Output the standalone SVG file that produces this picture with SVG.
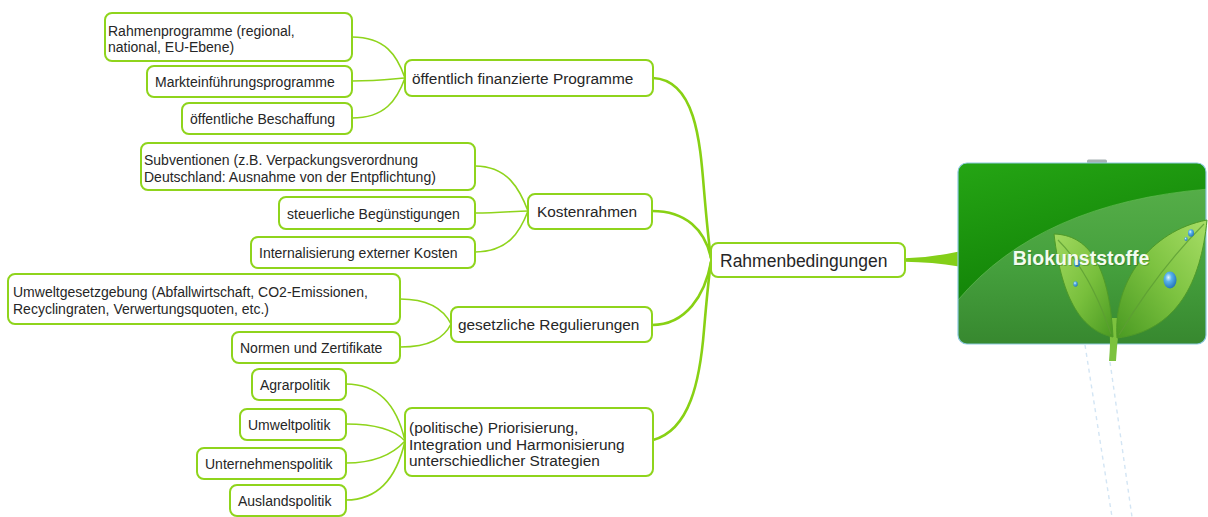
<svg xmlns="http://www.w3.org/2000/svg" width="1208" height="517" viewBox="0 0 1208 517">
  <defs>
    <style>
      .box { fill: #ffffff; stroke: #8fd41c; stroke-width: 2; }
      .t { font-family: "Liberation Sans", Arial, sans-serif; font-size: 14px; fill: #262626; }
      .t2 { font-family: "Liberation Sans", Arial, sans-serif; font-size: 15.4px; fill: #262626; }
      .t3 { font-family: "Liberation Sans", Arial, sans-serif; font-size: 17.5px; fill: #262626; }
      .branch { fill: none; stroke: #88d114; stroke-width: 2.6; stroke-linecap: round; }
      .twig { fill: none; stroke: #8fd41c; stroke-width: 1.6; stroke-linecap: round; }
    </style>
    <linearGradient id="cardTop" x1="0" y1="0" x2="0.3" y2="1">
      <stop offset="0" stop-color="#25a514"/>
      <stop offset="0.6" stop-color="#168a0a"/>
      <stop offset="1" stop-color="#0c7406"/>
    </linearGradient>
    <linearGradient id="cardLow" x1="0" y1="0" x2="0" y2="1">
      <stop offset="0" stop-color="#55ad48"/>
      <stop offset="0.5" stop-color="#45a03d"/>
      <stop offset="1" stop-color="#37882f"/>
    </linearGradient>
    <linearGradient id="leafA" x1="0" y1="0" x2="1" y2="1">
      <stop offset="0" stop-color="#a2da60"/>
      <stop offset="0.55" stop-color="#78bf3c"/>
      <stop offset="1" stop-color="#4a9a22"/>
    </linearGradient>
    <linearGradient id="leafB" x1="1" y1="0" x2="0" y2="1">
      <stop offset="0" stop-color="#a8de66"/>
      <stop offset="0.5" stop-color="#7cc240"/>
      <stop offset="1" stop-color="#4a9a22"/>
    </linearGradient>
    <radialGradient id="drop" cx="0.38" cy="0.35" r="0.7">
      <stop offset="0" stop-color="#e6f6ff"/>
      <stop offset="0.35" stop-color="#5ab4ec"/>
      <stop offset="1" stop-color="#1f6fb8"/>
    </radialGradient>
    <clipPath id="cardClip">
      <rect x="958" y="163" width="248" height="181" rx="9"/>
    </clipPath>
  </defs>

  <rect width="1208" height="517" fill="#ffffff"/>

  <!-- connectors -->
  <g id="connectors">
    <!-- root to main topic -->
    <path d="M905,258.3 Q932,257.5 959,251.5 L959,266.5 Q932,262 905,261.7 Z" fill="#84cf18"/>
    <!-- main topic to branches -->
    <path class="branch" d="M653,78 C695,80 700,140 704,190 C707,225 709,245 711,258"/>
    <path class="branch" d="M652,211 C686,211 705,230 711,258"/>
    <path class="branch" d="M652,325 C686,325 705,295 711,262"/>
    <path class="branch" d="M653,440 C690,430 700,380 704,330 C707,295 709,275 711,262"/>
    <!-- öffentlich finanzierte Programme -->
    <path class="twig" d="M352,37 C385,37 397,55 405,78"/>
    <path class="twig" d="M352,81 C378,81 392,79 405,78"/>
    <path class="twig" d="M352,118 C385,118 397,100 405,78"/>
    <!-- Kostenrahmen -->
    <path class="twig" d="M475,166 C508,166 520,190 528,211"/>
    <path class="twig" d="M475,213 C500,213 515,211 528,211"/>
    <path class="twig" d="M475,252 C508,252 520,232 528,211"/>
    <!-- gesetzliche Regulierungen -->
    <path class="twig" d="M400,299 C430,299 444,310 451,324"/>
    <path class="twig" d="M400,347 C430,347 444,338 451,324"/>
    <!-- politische Priorisierung -->
    <path class="twig" d="M346,384 C382,384 398,410 405,441"/>
    <path class="twig" d="M346,424 C378,424 395,430 405,441"/>
    <path class="twig" d="M346,463 C378,463 395,452 405,441"/>
    <path class="twig" d="M346,500 C382,500 398,472 405,441"/>
  </g>

  <!-- central topic card -->
  <g id="biokunststoffe">
    <rect x="1087" y="159.5" width="20" height="4" rx="1.5" fill="#a7b2b4"/>
    <g clip-path="url(#cardClip)">
      <rect x="958" y="163" width="248" height="181" fill="url(#cardTop)"/>
      <path d="M958,300 Q1040,203 1208,189 L1208,344 L958,344 Z" fill="url(#cardLow)"/>
      <path d="M958,300 Q1040,203 1208,189" fill="none" stroke="#6cbf5c" stroke-width="1" opacity="0.6"/>
    </g>
    <rect x="958" y="163" width="248" height="181" rx="9" fill="none" stroke="#8cc9de" stroke-width="1.2"/>
    <!-- reflection guides below the card -->
    <path d="M1085,345 L1112,517 M1110,362 L1132,517" stroke="#d3e5f4" stroke-width="1.4" stroke-dasharray="4 4" fill="none"/>
    <!-- stem -->
    <path d="M1108,318 C1111,335 1110,350 1109,361 L1116,361 C1117,348 1118,332 1121,318 Z" fill="#7cc23e"/>
    <!-- left leaf -->
    <path d="M1054,234 C1087,235 1109,262 1113,337 C1083,331 1062,302 1054,234 Z" fill="url(#leafA)" stroke="#4f9a28" stroke-width="1"/>
    <path d="M1058,240 C1080,262 1098,295 1111,334" fill="none" stroke="#5d9d33" stroke-width="1.2" opacity="0.8"/>
    <!-- right leaf -->
    <path d="M1117,338 C1113,282 1150,231 1207,220 C1201,282 1177,331 1117,338 Z" fill="url(#leafB)" stroke="#4f9a28" stroke-width="1"/>
    <path d="M1119,335 C1140,300 1170,258 1204,224" fill="none" stroke="#5d9d33" stroke-width="1.2" opacity="0.8"/>
    <!-- water drops -->
    <ellipse cx="1170" cy="280" rx="6.5" ry="8.5" fill="url(#drop)"/>
    <ellipse cx="1077" cy="263" rx="3.2" ry="4" fill="url(#drop)"/>
    <ellipse cx="1075.5" cy="284" rx="2.2" ry="2.8" fill="url(#drop)"/>
    <ellipse cx="1191" cy="233" rx="3" ry="3.8" fill="url(#drop)"/>
    <ellipse cx="1186" cy="239" rx="1.6" ry="2" fill="url(#drop)"/>
    <text x="1081" y="265" text-anchor="middle" font-family="Liberation Sans, Arial, sans-serif" font-size="19.5" font-weight="bold" fill="#1d5a14" opacity="0.35" dx="1" dy="1">Biokunststoffe</text>
    <text x="1081" y="265" text-anchor="middle" font-family="Liberation Sans, Arial, sans-serif" font-size="19.5" font-weight="bold" fill="#f4fbef">Biokunststoffe</text>
  </g>

  <!-- main topic -->
  <g id="rahmenbedingungen">
    <rect class="box" x="711" y="243" width="194" height="34" rx="7"/>
    <text class="t3" x="720" y="266.5">Rahmenbedingungen</text>
  </g>

  <!-- branch: öffentlich finanzierte Programme -->
  <g id="oeffentlich-finanziert">
    <rect class="box" x="405" y="60" width="248" height="36" rx="7"/>
    <text class="t2" x="412" y="84">öffentlich finanzierte Programme</text>
  </g>
  <g id="rahmenprogramme">
    <rect class="box" x="105" y="13" width="247" height="48" rx="7"/>
    <text class="t" x="108" y="36">Rahmenprogramme (regional,</text>
    <text class="t" x="108" y="52">national, EU-Ebene)</text>
  </g>
  <g id="markteinfuehrung">
    <rect class="box" x="147" y="66" width="205" height="31" rx="7"/>
    <text class="t" x="155" y="86.5">Markteinführungsprogramme</text>
  </g>
  <g id="beschaffung">
    <rect class="box" x="182" y="103" width="170" height="31" rx="7"/>
    <text class="t" x="190" y="123.5">öffentliche Beschaffung</text>
  </g>

  <!-- branch: Kostenrahmen -->
  <g id="kostenrahmen">
    <rect class="box" x="528" y="194" width="124" height="35" rx="7"/>
    <text class="t2" x="537" y="216.5">Kostenrahmen</text>
  </g>
  <g id="subventionen">
    <rect class="box" x="141" y="143" width="334" height="47" rx="7"/>
    <text class="t" x="144" y="164.5">Subventionen (z.B. Verpackungsverordnung</text>
    <text class="t" x="144" y="181.5">Deutschland: Ausnahme von der Entpflichtung)</text>
  </g>
  <g id="steuerliche">
    <rect class="box" x="279" y="197" width="196" height="32" rx="7"/>
    <text class="t" x="287" y="218.5">steuerliche Begünstigungen</text>
  </g>
  <g id="internalisierung">
    <rect class="box" x="251" y="237" width="224" height="31" rx="7"/>
    <text class="t" x="259" y="258">Internalisierung externer Kosten</text>
  </g>

  <!-- branch: gesetzliche Regulierungen -->
  <g id="gesetzliche">
    <rect class="box" x="451" y="307" width="201" height="35" rx="7"/>
    <text class="t2" x="458" y="330">gesetzliche Regulierungen</text>
  </g>
  <g id="umweltgesetzgebung">
    <rect class="box" x="8" y="274" width="392" height="50" rx="7"/>
    <text class="t" x="13" y="297">Umweltgesetzgebung (Abfallwirtschaft, CO2-Emissionen,</text>
    <text class="t" x="13" y="314">Recyclingraten, Verwertungsquoten, etc.)</text>
  </g>
  <g id="normen">
    <rect class="box" x="232" y="332" width="168" height="31" rx="7"/>
    <text class="t" x="240" y="353">Normen und Zertifikate</text>
  </g>

  <!-- branch: politische Priorisierung -->
  <g id="priorisierung">
    <rect class="box" x="405" y="408" width="248" height="68" rx="7"/>
    <text class="t2" x="409" y="433">(politische) Priorisierung,</text>
    <text class="t2" x="409" y="449.5">Integration und Harmonisierung</text>
    <text class="t2" x="409" y="466">unterschiedlicher Strategien</text>
  </g>
  <g id="agrarpolitik">
    <rect class="box" x="252" y="369" width="94" height="31" rx="7"/>
    <text class="t" x="260" y="390">Agrarpolitik</text>
  </g>
  <g id="umweltpolitik">
    <rect class="box" x="240" y="409" width="106" height="31" rx="7"/>
    <text class="t" x="248" y="430">Umweltpolitik</text>
  </g>
  <g id="unternehmenspolitik">
    <rect class="box" x="197" y="448" width="149" height="31" rx="7"/>
    <text class="t" x="205" y="469">Unternehmenspolitik</text>
  </g>
  <g id="auslandspolitik">
    <rect class="box" x="230" y="485" width="116" height="31" rx="7"/>
    <text class="t" x="238" y="506">Auslandspolitik</text>
  </g>
</svg>
